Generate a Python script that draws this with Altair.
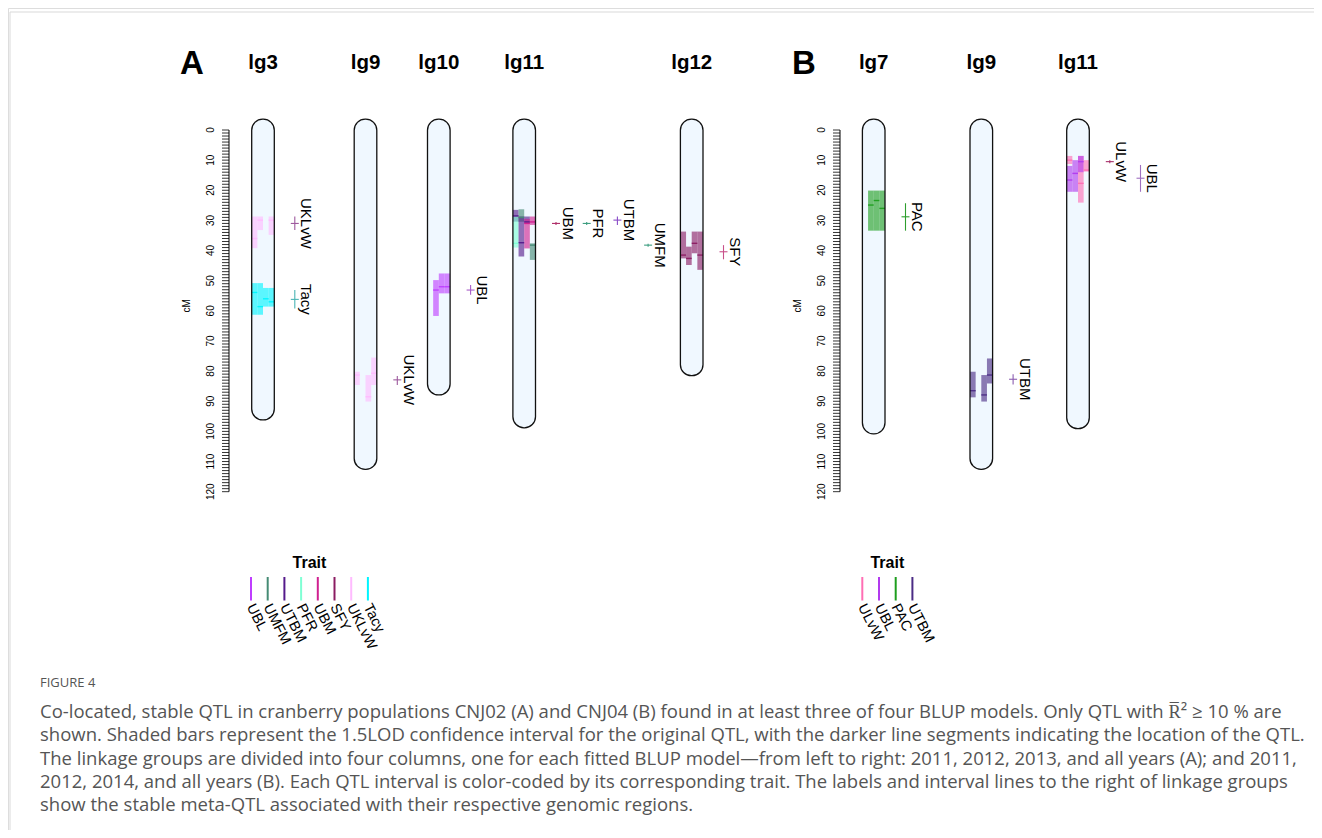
import altair as alt
import pandas as pd

# ---------------- data ----------------
# Panel A (CNJ02) and panel B (CNJ04) linkage groups, lengths in cM
A_groups = ["lg3", "lg9", "lg10", "lg11", "lg12"]
A_lengths = [92.6, 109.0, 84.3, 95.2, 77.9]
B_groups = ["lg7", "lg9", "lg11"]
B_lengths = [97.2, 109.0, 95.5]

# BLUP model columns inside each linkage group
models = ["2011", "2012", "2013/2014", "all years"]

# Original QTL intervals (1.5-LOD): panel, group, model column, trait, start, end, peak (cM)
_rows = [
    # panel A
    ("A", "lg3", 0, "UKLvW", 28.7, 39.2, 36.0),
    ("A", "lg3", 1, "UKLvW", 28.7, 33.2, 29.9),
    ("A", "lg3", 3, "UKLvW", 28.7, 34.8, 29.9),
    ("A", "lg3", 0, "Tacy", 50.8, 61.3, 53.9),
    ("A", "lg3", 1, "Tacy", 50.8, 61.3, 58.6),
    ("A", "lg3", 2, "Tacy", 52.4, 58.6, 56.0),
    ("A", "lg3", 3, "Tacy", 52.4, 58.6, 57.0),
    ("A", "lg9", 0, "UKLvW", 80.2, 84.6, 81.3),
    ("A", "lg9", 2, "UKLvW", 81.3, 90.1, 88.5),
    ("A", "lg9", 3, "UKLvW", 75.5, 84.6, 80.7),
    ("A", "lg10", 1, "UBL", 49.8, 61.7, 53.1),
    ("A", "lg10", 2, "UBL", 47.6, 54.2, 52.0),
    ("A", "lg10", 3, "UBL", 47.6, 54.2, 52.0),
    ("A", "lg11", 0, "UTBM", 26.5, 30.4, 28.5),
    ("A", "lg11", 0, "PFR", 28.7, 39.0, 37.6),
    ("A", "lg11", 1, "UMFM", 26.3, 30.4, 29.0),
    ("A", "lg11", 1, "UTBM", 28.7, 42.0, 37.4),
    ("A", "lg11", 2, "UTBM", 28.7, 31.0, 30.5),
    ("A", "lg11", 2, "UBM", 29.5, 39.3, 31.0),
    ("A", "lg11", 3, "UBM", 28.7, 31.5, 30.5),
    ("A", "lg11", 3, "UMFM", 37.6, 43.1, 38.2),
    ("A", "lg12", 0, "SFY", 33.7, 42.6, 41.5),
    ("A", "lg12", 1, "SFY", 38.7, 44.8, 42.6),
    ("A", "lg12", 2, "SFY", 33.7, 40.9, 37.6),
    ("A", "lg12", 3, "SFY", 33.7, 46.4, 41.5),
    # panel B
    ("B", "lg7", 1, "PAC", 20.1, 33.4, 24.9),
    ("B", "lg7", 2, "PAC", 20.1, 33.4, 23.4),
    ("B", "lg7", 3, "PAC", 20.1, 33.4, 26.0),
    ("B", "lg9", 0, "UTBM", 80.2, 88.7, 86.5),
    ("B", "lg9", 2, "UTBM", 81.3, 90.1, 87.9),
    ("B", "lg9", 3, "UTBM", 75.8, 84.1, 81.3),
    ("B", "lg11", 0, "ULvW", 8.6, 11.3, 10.0),
    ("B", "lg11", 0, "UBL", 11.9, 20.5, 16.6),
    ("B", "lg11", 1, "UBL", 10.0, 20.5, 14.4),
    ("B", "lg11", 2, "ULvW", 8.6, 24.1, 17.7),
    ("B", "lg11", 2, "UBL", 8.6, 14.0, 10.5),
    ("B", "lg11", 3, "ULvW", 10.0, 13.8, 13.3),
]

# Stable meta-QTL: panel, group, label column, trait, peak, low, high (cM)
meta_rows = [
    ("A", "lg3", 0, "UKLvW", 31.0, 28.7, 33.2),
    ("A", "lg3", 0, "Tacy", 56.2, 53.1, 59.2),
    ("A", "lg9", 0, "UKLvW", 82.9, 81.6, 84.6),
    ("A", "lg10", 0, "UBL", 53.1, 51.4, 54.7),
    ("A", "lg11", 0, "UBM", 31.0, 30.5, 31.5),
    ("A", "lg11", 1, "PFR", 31.0, 30.5, 31.5),
    ("A", "lg11", 2, "UTBM", 29.9, 28.7, 31.5),
    ("A", "lg11", 3, "UMFM", 38.2, 37.7, 38.7),
    ("A", "lg12", 0, "SFY", 40.4, 38.2, 42.9),
    ("B", "lg7", 0, "PAC", 28.8, 24.3, 33.4),
    ("B", "lg9", 0, "UTBM", 82.7, 81.0, 84.4),
    ("B", "lg11", 0, "ULvW", 10.5, 10.0, 11.0),
    ("B", "lg11", 1, "UBL", 16.0, 11.6, 20.5),
]

A_traits = ["UBL", "UMFM", "UTBM", "PFR", "UBM", "SFY", "UKLvW", "Tacy"]
B_traits = ["ULvW", "UBL", "PAC", "UTBM"]

axis_ticks = list(range(0, 121))
axis_labels = list(range(0, 121, 10))

caption_head = "FIGURE 4"
caption_lines = [
    "Co-located, stable QTL in cranberry populations CNJ02 (A) and CNJ04 (B) found in at least three of four BLUP models. Only QTL with R\u0305\u00b2 \u2265 10 % are",
    "shown. Shaded bars represent the 1.5LOD confidence interval for the original QTL, with the darker line segments indicating the location of the QTL.",
    "The linkage groups are divided into four columns, one for each fitted BLUP model\u2014from left to right: 2011, 2012, 2013, and all years (A); and 2011,",
    "2012, 2014, and all years (B). Each QTL interval is color-coded by its corresponding trait. The labels and interval lines to the right of linkage groups",
    "show the stable meta-QTL associated with their respective genomic regions.",
]

# ---------------- style / layout ----------------
COL = {
    "A": {"UBL": "#BF3EFF", "UMFM": "#458B74", "UTBM": "#551A8B", "PFR": "#7FFFD4",
          "UBM": "#D02090", "SFY": "#8B1C62", "UKLvW": "#FFBBFF", "Tacy": "#00F5FF"},
    "B": {"ULvW": "#FF6EB4", "UBL": "#B23AEE", "PAC": "#1E9E1E", "UTBM": "#4B2C85"},
}
META_COL = {
    "A": {"UKLvW": "#9E5A9E", "Tacy": "#4BB5B5", "UBL": "#A85CC8", "UBM": "#B0306A",
          "PFR": "#3E9E80", "UTBM": "#8A4CC8", "UMFM": "#3E9E80", "SFY": "#C8508A"},
    "B": {"PAC": "#2E9E2E", "UTBM": "#8A5CB0", "ULvW": "#A8306A", "UBL": "#A070C0"},
}
CENTERS = {"A": [263.0, 365.5, 438.8, 524.2, 691.7], "B": [873.7, 981.3, 1078.0]}
AXIS_X = {"A": 229.0, "B": 840.0}
PANEL_X = {"A": 192.0, "B": 804.0}
LEG_X0 = {"A": 251.0, "B": 862.3}
LEG_DX = 16.7
CHROM_W = 22.6
META_DX0, META_DK, LABEL_DX = 20.5, 30.7, 6.5
CAP_CM = 3.6
FONT = "Liberation Sans"

PAGE_W, PAGE_H = 1322, 838
W, H = PAGE_W - 16, PAGE_H - 16
Y0_PX, PX_PER_CM = 130.0, 3.014
cm_dom = [(8 - Y0_PX) / PX_PER_CM, (8 + H - Y0_PX) / PX_PER_CM]

xs = alt.Scale(domain=[8, 8 + W], nice=False, zero=False)
ys_cm = alt.Scale(domain=cm_dom, reverse=True, nice=False, zero=False)
ys_px = alt.Scale(domain=[8, 8 + H], reverse=True, nice=False, zero=False)


def X(f):
    return alt.X(f, type="quantitative", scale=xs, axis=None)


def X2(f):
    return alt.X2(f)


def Ycm(f):
    return alt.Y(f, type="quantitative", scale=ys_cm, axis=None)


def Ypx(f):
    return alt.Y(f, type="quantitative", scale=ys_px, axis=None)


C = alt.Color("col:N", scale=None, legend=None)

# ---------------- tables ----------------
groups = {"A": (A_groups, A_lengths), "B": (B_groups, B_lengths)}
chrom_rows = []
pos = {}
for p, (gs, ls) in groups.items():
    for g, L, c in zip(gs, ls, CENTERS[p]):
        left = c - CHROM_W / 2
        pos[(p, g)] = left
        chrom_rows.append(dict(panel=p, group=g, x=left, x2=left + CHROM_W, y=-CAP_CM, y2=L + CAP_CM,
                               cx=c, title=g))
chrom = pd.DataFrame(chrom_rows)

cw = CHROM_W / 4
qrows = []
for p, g, m, t, s, e, pk in _rows:
    left = pos[(p, g)] + m * cw
    qrows.append(dict(panel=p, group=g, model=models[m], trait=t, x=left, x2=left + cw,
                      start=s, end=e, peak=pk, col=COL[p][t]))
qtl = pd.DataFrame(qrows)

mrows = []
for p, g, k, t, pk, lo, hi in meta_rows:
    cx = pos[(p, g)] + CHROM_W + META_DX0 + k * META_DK
    mrows.append(dict(panel=p, group=g, trait=t, x=cx, xa=cx - 4, xb=cx + 4, lx=cx + LABEL_DX,
                      peak=pk, lo=lo, hi=hi, col=META_COL[p][t]))
meta = pd.DataFrame(mrows)

tick_rows, lab_rows, axl_rows = [], [], []
for p in ["A", "B"]:
    ax = AXIS_X[p]
    axl_rows.append(dict(x=ax, y=0, y2=120))
    for v in axis_ticks:
        tick_rows.append(dict(x=ax - 7, x2=ax, y=v))
    for v in axis_labels:
        lab_rows.append(dict(x=ax - 18, y=v, t=str(v)))
ticks = pd.DataFrame(tick_rows)
axlab = pd.DataFrame(lab_rows)
axline = pd.DataFrame(axl_rows)
cmlab = pd.DataFrame([dict(x=AXIS_X[p] - 42, y=58.3, t="cM") for p in ["A", "B"]])

titles = pd.DataFrame([dict(x=PANEL_X[p], y=73.5, t=p) for p in ["A", "B"]])
gtitles = chrom[["cx", "title"]].assign(y=69.3)

leg_rows, leglab_rows = [], []
for p, trs in [("A", A_traits), ("B", B_traits)]:
    for i, t in enumerate(trs):
        x = LEG_X0[p] + i * LEG_DX
        leg_rows.append(dict(x=x, y=577, y2=600.5, col=COL[p][t]))
        leglab_rows.append(dict(x=x - 1, y=605, t=t))
legl = pd.DataFrame(leg_rows)
legt = pd.DataFrame(leglab_rows)
legh = pd.DataFrame([dict(x=LEG_X0[p] + (len(trs) - 1) * LEG_DX / 2, y=563, t="Trait")
                     for p, trs in [("A", A_traits), ("B", B_traits)]])

cap = pd.DataFrame([dict(x=40, y=712 + i * 23.3, t=s) for i, s in enumerate(caption_lines)])
caphead = pd.DataFrame([dict(x=40, y=683, t=caption_head)])
frame = pd.DataFrame([dict(x=10, x2=8 + W, y=12, y2=12), dict(x=10, x2=10, y=12, y2=8 + H)])

# ---------------- layers ----------------
L = []
L.append(alt.Chart(frame).mark_rule(color="#d9d9d9", strokeWidth=1).encode(
    x=X("x"), x2=X2("x2"), y=Ypx("y"), y2=alt.Y2("y2")))

L.append(alt.Chart(chrom).mark_rect(cornerRadius=11, fill="#F0F8FF").encode(
    x=X("x"), x2=X2("x2"), y=Ycm("y"), y2=alt.Y2("y2")))
L.append(alt.Chart(qtl).mark_rect(opacity=0.62).encode(
    x=X("x"), x2=X2("x2"), y=Ycm("start"), y2=alt.Y2("end"), color=C))
L.append(alt.Chart(qtl).mark_rule(strokeWidth=1.4, opacity=0.95).encode(
    x=X("x"), x2=X2("x2"), y=Ycm("peak"), color=C))
L.append(alt.Chart(chrom).mark_rect(cornerRadius=11, fillOpacity=0, stroke="#111111",
                                    strokeWidth=1.3).encode(
    x=X("x"), x2=X2("x2"), y=Ycm("y"), y2=alt.Y2("y2")))

L.append(alt.Chart(meta).mark_rule(strokeWidth=1.1).encode(
    x=X("x"), y=Ycm("lo"), y2=alt.Y2("hi"), color=C))
L.append(alt.Chart(meta).mark_rule(strokeWidth=1.1).encode(
    x=X("xa"), x2=X2("xb"), y=Ycm("peak"), color=C))
L.append(alt.Chart(meta).mark_text(angle=90, align="center", baseline="alphabetic", font=FONT,
                                   fontSize=15, color="black").encode(
    x=X("lx"), y=Ycm("peak"), text="trait:N"))

L.append(alt.Chart(axline).mark_rule(color="black", strokeWidth=1).encode(
    x=X("x"), y=Ycm("y"), y2=alt.Y2("y2")))
L.append(alt.Chart(ticks).mark_rule(color="black", strokeWidth=0.8).encode(
    x=X("x"), x2=X2("x2"), y=Ycm("y")))
L.append(alt.Chart(axlab).mark_text(angle=270, align="center", baseline="middle", font=FONT,
                                    fontSize=10, color="black").encode(
    x=X("x"), y=Ycm("y"), text="t:N"))
L.append(alt.Chart(cmlab).mark_text(angle=270, align="center", baseline="middle", font=FONT,
                                    fontSize=10, color="black").encode(
    x=X("x"), y=Ycm("y"), text="t:N"))

L.append(alt.Chart(titles).mark_text(align="center", baseline="alphabetic", font=FONT,
                                     fontSize=33, fontWeight="bold", color="black").encode(
    x=X("x"), y=Ypx("y"), text="t:N"))
L.append(alt.Chart(gtitles).mark_text(align="center", baseline="alphabetic", font=FONT,
                                      fontSize=20.5, fontWeight="bold", color="black").encode(
    x=X("cx"), y=Ypx("y"), text="title:N"))

L.append(alt.Chart(legh).mark_text(align="center", baseline="middle", font=FONT, fontSize=16,
                                   fontWeight="bold", color="black").encode(
    x=X("x"), y=Ypx("y"), text="t:N"))
L.append(alt.Chart(legl).mark_rule(strokeWidth=2).encode(
    x=X("x"), y=Ypx("y"), y2=alt.Y2("y2"), color=C))
L.append(alt.Chart(legt).mark_text(angle=63, align="left", baseline="middle", font=FONT,
                                   fontSize=14.5, color="black").encode(
    x=X("x"), y=Ypx("y"), text="t:N"))

L.append(alt.Chart(caphead).mark_text(align="left", baseline="middle", font="Open Sans",
                                      fontSize=13, color="#555555").encode(
    x=X("x"), y=Ypx("y"), text="t:N"))
L.append(alt.Chart(cap).mark_text(align="left", baseline="middle", font="Open Sans",
                                  fontSize=18.5, color="#555555").encode(
    x=X("x"), y=Ypx("y"), text="t:N"))

chart = alt.layer(*L).resolve_scale(y="independent").properties(
    width=W, height=H, autosize=alt.AutoSizeParams(type="none"), padding=0
).configure_view(stroke=None).configure(background="white")

chart.save("out.html", embed_options={"renderer": "svg", "actions": False})
